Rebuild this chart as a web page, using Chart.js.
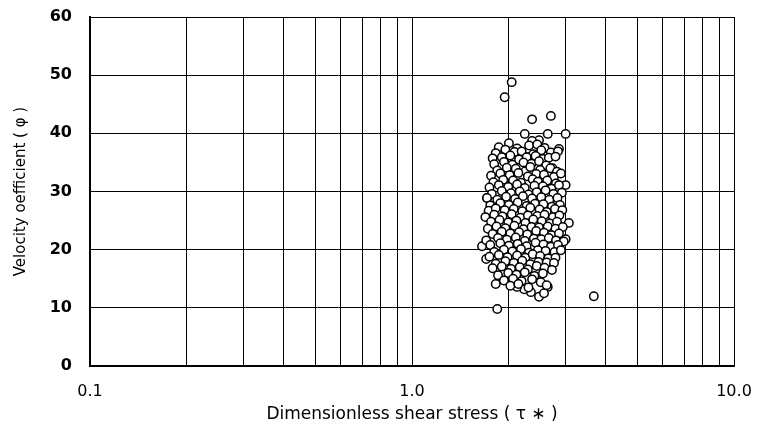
<!DOCTYPE html>
<html>
<head>
<meta charset="utf-8">
<script src="https://cdn.jsdelivr.net/npm/chart.js@4/dist/chart.umd.min.js"></script>
<style>
  html, body { margin: 0; padding: 0; background: #fff; }
  #wrap { width: 758px; height: 435px; }
</style>
</head>
<body>
<div id="wrap"><canvas id="myChart"></canvas></div>
<script>
// tau* (dimensionless shear stress) and phi (velocity coefficient)
const tau = [
  2.04, 1.94, 2.36, 2.70, 2.24, 2.64, 3.00, 2.86, 3.00, 3.07, 3.67, 1.84, 1.65, 1.82, 1.70, 3.00,
  2.48, 2.64, 2.57, 2.34, 2.23, 2.12, 1.71, 2.48, 2.36, 2.44, 2.60, 2.28,
  1.86, 2.00, 2.12, 2.31, 2.45, 2.58,
  1.82, 1.95, 2.08, 2.19, 2.38, 2.52, 2.70, 2.84,
  1.78, 1.90, 2.02, 2.15, 2.27, 2.42, 2.55, 2.66, 2.79,
  1.80, 1.93, 2.05, 2.22, 2.35, 2.48, 2.61, 2.73,
  1.84, 1.97, 2.10, 2.25, 2.33, 2.50, 2.69, 2.82,
  1.76, 1.88, 2.01, 2.14, 2.29, 2.43, 2.57, 2.76, 2.90,
  1.79, 1.92, 2.06, 2.18, 2.37, 2.46, 2.63, 2.80,
  1.74, 1.86, 1.99, 2.12, 2.24, 2.40, 2.55, 2.71, 2.86,
  1.77, 1.90, 2.03, 2.16, 2.30, 2.44, 2.60, 2.75, 2.92,
  1.71, 1.84, 1.96, 2.09, 2.21, 2.36, 2.52, 2.67, 2.83,
  1.75, 1.88, 2.00, 2.13, 2.27, 2.41, 2.56, 2.72, 2.88,
  1.73, 1.82, 1.94, 2.07, 2.20, 2.33, 2.49, 2.62, 2.78, 2.93,
  1.69, 1.80, 1.91, 2.04, 2.17, 2.29, 2.45, 2.58, 2.74, 2.87,
  1.76, 1.87, 1.99, 2.11, 2.25, 2.38, 2.53, 2.68, 2.82,
  1.72, 1.83, 1.95, 2.08, 2.22, 2.35, 2.48, 2.64, 2.79, 2.94,
  1.78, 1.90, 2.02, 2.15, 2.28, 2.43, 2.57, 2.71, 2.86,
  1.70, 1.85, 1.97, 2.10, 2.24, 2.39, 2.52, 2.66, 2.80, 2.96,
  1.75, 1.88, 2.00, 2.13, 2.27, 2.42, 2.56, 2.70, 2.84,
  1.80, 1.93, 2.05, 2.18, 2.31, 2.46, 2.60, 2.77, 2.90,
  1.74, 1.86, 1.98, 2.12, 2.25, 2.37, 2.50, 2.65, 2.79,
  1.82, 1.95, 2.07, 2.20, 2.33, 2.47, 2.62, 2.76,
  1.78, 1.90, 2.03, 2.16, 2.29, 2.44, 2.58, 2.72,
  1.85, 1.99, 2.11, 2.24, 2.40, 2.55,
  1.93, 2.06, 2.19, 2.36, 2.51,
  2.02, 2.14, 2.30, 2.62
];
const phi = [
  48.8, 46.2, 42.4, 43.0, 39.9, 39.9, 39.9, 37.3, 31.1, 24.6, 12.0, 9.8, 20.6, 14.1, 18.4, 21.8,
  11.9, 13.6, 12.5, 12.7, 13.2, 13.6, 28.9, 38.8, 38.7, 36.3, 35.4, 35.9,
  37.6, 38.3, 37.4, 37.9, 38.1, 37.5,
  36.6, 37.2, 36.8, 36.9, 36.4, 37.1, 36.7, 36.9,
  35.7, 35.9, 36.2, 35.5, 35.9, 36.1, 35.6, 35.8, 36.0,
  34.7, 35.1, 34.6, 35.0, 34.8, 35.2, 34.5, 34.0,
  33.6, 34.1, 33.9, 33.5, 34.2, 33.7, 34.0, 33.4,
  32.7, 33.1, 32.8, 33.2, 32.6, 33.0, 32.9, 32.5, 33.1,
  31.6, 32.0, 31.9, 31.5, 32.1, 31.7, 31.9, 31.4,
  30.7, 31.1, 30.8, 31.2, 30.6, 31.0, 30.9, 30.5, 31.1,
  29.6, 30.1, 29.7, 30.0, 29.5, 29.9, 30.2, 29.6, 29.8,
  28.9, 28.6, 29.1, 28.7, 29.2, 28.8, 29.0, 28.6, 28.9,
  27.6, 28.0, 27.7, 28.1, 27.5, 27.9, 27.8, 27.4, 27.7,
  26.7, 27.1, 26.8, 27.0, 26.6, 27.2, 26.9, 26.5, 27.0, 26.8,
  25.6, 26.0, 25.7, 26.1, 25.5, 25.9, 25.8, 26.0, 25.6, 25.9,
  24.8, 25.1, 24.7, 25.0, 24.6, 25.2, 24.9, 24.5, 24.8,
  23.6, 24.0, 23.7, 24.1, 23.5, 23.9, 23.8, 24.0, 23.6, 23.9,
  22.7, 23.1, 22.8, 23.0, 22.6, 23.2, 22.9, 22.5, 22.8,
  21.6, 22.0, 21.7, 22.1, 21.5, 21.9, 21.8, 22.0, 21.6, 21.4,
  20.8, 21.1, 20.7, 21.0, 20.6, 21.2, 20.9, 20.5, 20.8,
  19.6, 20.0, 19.7, 20.1, 19.5, 19.9, 19.8, 19.6, 19.9,
  18.8, 19.1, 18.7, 19.0, 18.6, 19.2, 18.9, 18.5, 18.6,
  17.6, 18.0, 17.7, 18.1, 17.5, 17.9, 17.8, 17.7,
  16.8, 17.1, 16.7, 17.0, 16.6, 17.2, 16.9, 16.5,
  15.6, 16.0, 15.7, 16.1, 15.5, 15.9,
  14.7, 15.0, 14.6, 14.9, 14.4,
  13.8, 14.1, 13.5, 13.9
];

const xTicks = [0.1, 0.2, 0.3, 0.4, 0.5, 0.6, 0.7, 0.8, 0.9, 1, 2, 3, 4, 5, 6, 7, 8, 9, 10];
const xLabels = { 0.1: '0.1', 1: '1.0', 10: '10.0' };
const yTicks = [0, 10, 20, 30, 40, 50, 60];

const points = tau.map((t, i) => ({ x: t, y: phi[i] }));
const fontFam = 'DejaVu Sans, Arial, sans-serif';

const ctx = document.getElementById('myChart');
new Chart(ctx, {
  type: 'scatter',
  data: {
    datasets: [{
      data: points,
      pointRadius: 4.2,
      pointBorderWidth: 1.5,
      pointBorderColor: '#000',
      pointBackgroundColor: '#fff'
    }]
  },
  options: {
    responsive: true,
    maintainAspectRatio: false,
    animation: false,
    layout: { padding: { top: 17, right: 24, left: 8, bottom: 0 } },
    plugins: {
      legend: { display: false },
      tooltip: { enabled: false }
    },
    scales: {
      x: {
        type: 'logarithmic',
        min: 0.1,
        max: 10,
        afterBuildTicks: (axis) => { axis.ticks = xTicks.map(v => ({ value: v })) },
        afterFit: (axis) => {
          axis.height = 69
          axis.paddingLeft = 0
          axis.paddingRight = 0
        },
        grid: { color: '#000', lineWidth: 1, drawTicks: false },
        border: { color: '#000', width: 2 },
        ticks: {
          autoSkip: false,
          maxRotation: 0,
          padding: 16,
          color: '#000',
          font: { family: fontFam, size: 16 },
          callback: (v) => xLabels[v] || ''
        },
        title: {
          display: true,
          text: 'Dimensionless shear stress ( τ ∗ )',
          color: '#000',
          font: { family: fontFam, size: 17 },
          padding: { top: 0, bottom: 10 }
        }
      },
      y: {
        min: 0,
        max: 60,
        afterBuildTicks: (axis) => { axis.ticks = yTicks.map(v => ({ value: v })) },
        afterFit: (axis) => {
          axis.width = 82
          axis.paddingTop = 0
          axis.paddingBottom = 0
        },
        grid: { color: '#000', lineWidth: 1, drawTicks: false },
        border: { color: '#000', width: 2 },
        ticks: {
          padding: 18,
          color: '#000',
          font: { family: fontFam, size: 16, weight: 'bold' }
        },
        title: {
          display: true,
          text: 'Velocity oefficient ( φ )',
          color: '#000',
          font: { family: fontFam, size: 15 },
          padding: { bottom: 4 }
        }
      }
    }
  }
})
</script>
</body>
</html>
